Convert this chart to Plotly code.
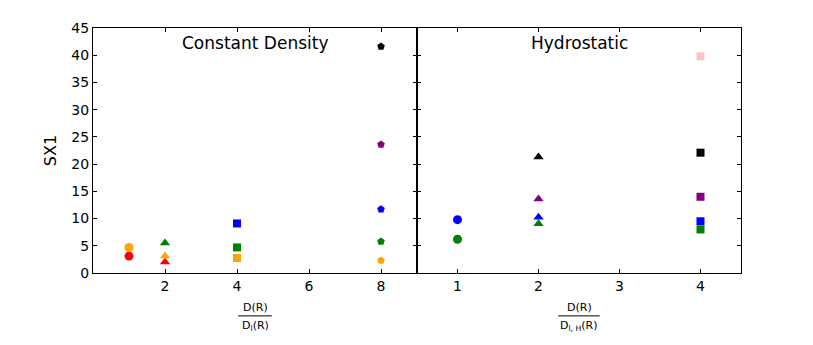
import plotly.graph_objects as go

# Constant Density panel, one series per colour
cd_series = ["red", "orange", "green", "blue", "purple", "black"]
cd_x = [[1, 2], [1, 2, 4, 8], [2, 4, 8], [4, 8], [8], [8]]
cd_y = [[3.1, 2.0], [4.7, 3.1, 2.75, 2.3], [5.5, 4.7, 5.8], [9.1, 11.7], [23.6], [41.6]]

# Hydrostatic panel
hs_series = ["green", "blue", "purple", "black", "pink"]
hs_x = [[1, 2, 4], [1, 2, 4], [2, 4], [2, 4], [4]]
hs_y = [[6.2, 9.05, 8.0], [9.8, 10.25, 9.5], [13.6, 14.0], [21.3, 22.1], [39.8]]

cd_xticks = [2, 4, 6, 8]
hs_xticks = [1, 2, 3, 4]
yticks = [0, 5, 10, 15, 20, 25, 30, 35, 40, 45]

colours = {"red": "#ff0000", "orange": "#ffa500", "green": "#008000", "blue": "#0000ff",
           "purple": "#800080", "black": "#000000", "pink": "#ffc0cb"}
symbols = {1: "circle", 2: "triangle-up", 4: "square", 8: "pentagon"}
sizes = {1: 9, 2: 9, 4: 8, 8: 8}

fig = go.Figure()
for name, xs, ys in zip(cd_series, cd_x, cd_y):
    fig.add_trace(go.Scatter(x=xs, y=ys, mode="markers", xaxis="x", yaxis="y",
                             marker=dict(color=colours[name], symbol=[symbols[v] for v in xs],
                                         size=[sizes[v] for v in xs], opacity=1,
                                         line=dict(width=0))))
for name, xs, ys in zip(hs_series, hs_x, hs_y):
    fig.add_trace(go.Scatter(x=xs, y=ys, mode="markers", xaxis="x2", yaxis="y2",
                             marker=dict(color=colours[name], symbol=[symbols[v] for v in xs],
                                         size=[sizes[v] for v in xs], opacity=1,
                                         line=dict(width=0))))

ax = dict(showline=True, linecolor="black", linewidth=1, mirror="ticks", ticks="inside",
          ticklen=4, tickcolor="black", showgrid=False, zeroline=False,
          tickfont=dict(size=14, color="black"))

fig.update_layout(
    width=813, height=345, showlegend=False,
    plot_bgcolor="white", paper_bgcolor="white",
    margin=dict(l=85, r=80, t=14, b=80),
    font=dict(family="DejaVu Sans", color="black"),
    xaxis=dict(ax, domain=[0, 0.5], range=[0, 9], tickvals=cd_xticks),
    xaxis2=dict(ax, domain=[0.5, 1], range=[0.5, 4.5], tickvals=hs_xticks),
    yaxis=dict(ax, range=[0, 45], tickvals=yticks,
               title=dict(text="SX1", font=dict(size=16), standoff=10)),
    yaxis2=dict(ax, range=[0, 45], tickvals=yticks, anchor="x2", showticklabels=False),
)

fig.add_annotation(text="Constant Density", xref="x domain", yref="y domain", x=0.5, y=0.94,
                   yanchor="middle", showarrow=False, font=dict(size=17))
fig.add_annotation(text="Hydrostatic", xref="x2 domain", yref="y2 domain", x=0.5, y=0.94,
                   yanchor="middle", showarrow=False, font=dict(size=17))

# fraction labels under each x axis
line_y = -0.175
for cx, den, hw in [(0.25, "D<sub>l</sub>(R)", 0.026), (0.75, "D<sub>l, H</sub>(R)", 0.032)]:
    fig.add_annotation(text="D(R)", xref="paper", yref="paper", x=cx, y=line_y,
                       xanchor="center", yanchor="bottom", showarrow=False,
                       font=dict(size=11))
    fig.add_annotation(text=den, xref="paper", yref="paper", x=cx, y=line_y,
                       xanchor="center", yanchor="top", yshift=-1, showarrow=False,
                       font=dict(size=11))
    fig.add_shape(type="line", xref="paper", yref="paper", x0=cx - hw, x1=cx + hw,
                  y0=line_y, y1=line_y, line=dict(color="black", width=1))

fig.write_html("out.html")
